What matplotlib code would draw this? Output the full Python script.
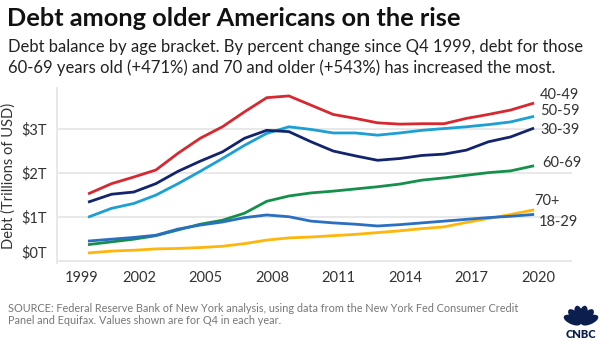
import numpy as np
import matplotlib.pyplot as plt
from matplotlib.patches import Ellipse
from matplotlib.transforms import ScaledTranslation

plt.rcParams['font.family'] = ['Lato', 'DejaVu Sans']

# Q4 values, trillions of USD
years = list(range(1999, 2020))
debt_18_29 = [0.45, 0.49, 0.53, 0.58, 0.72, 0.81, 0.88, 0.98, 1.04, 1.00, 0.90, 0.86,
              0.83, 0.79, 0.82, 0.86, 0.90, 0.94, 0.98, 1.01, 1.05]
debt_30_39 = [1.34, 1.51, 1.56, 1.75, 2.03, 2.26, 2.47, 2.78, 2.96, 2.93, 2.70, 2.49,
              2.38, 2.28, 2.32, 2.39, 2.42, 2.51, 2.70, 2.81, 3.00]
debt_40_49 = [1.53, 1.75, 1.90, 2.06, 2.44, 2.78, 3.04, 3.38, 3.70, 3.74, 3.53, 3.32,
              3.23, 3.13, 3.10, 3.11, 3.11, 3.23, 3.32, 3.42, 3.57]
debt_50_59 = [1.00, 1.19, 1.30, 1.49, 1.75, 2.03, 2.32, 2.62, 2.89, 3.04, 2.98, 2.90,
              2.90, 2.85, 2.90, 2.96, 3.00, 3.04, 3.09, 3.15, 3.27]
debt_60_69 = [0.37, 0.43, 0.49, 0.57, 0.70, 0.83, 0.92, 1.08, 1.35, 1.47, 1.54, 1.58,
              1.63, 1.68, 1.74, 1.83, 1.88, 1.94, 2.00, 2.04, 2.15]
debt_70 = [0.18, 0.22, 0.24, 0.27, 0.28, 0.30, 0.33, 0.39, 0.47, 0.52, 0.54, 0.57,
           0.60, 0.64, 0.68, 0.73, 0.77, 0.87, 0.96, 1.05, 1.15]

series = [
    ("40-49", debt_40_49, "#d7282f", (7, 8)),
    ("50-59", debt_50_59, "#1c9fd4", (7, 6)),
    ("30-39", debt_30_39, "#12246e", (8, -1)),
    ("60-69", debt_60_69, "#14904a", (9, 3)),
    ("70+", debt_70, "#ffb60a", (1, 9)),
    ("18-29", debt_18_29, "#2a6fc1", (6, -7)),
]
draw_order = ["70+", "60-69", "18-29", "50-59", "30-39", "40-49"]

x = np.array(years) + 0.75  # Q4 of each year

fig = plt.figure(figsize=(6.05, 3.41), dpi=100)
ax = fig.add_axes([57 / 605, 78 / 341, 515 / 605, 175 / 341])

for name in draw_order:
    label, vals, color, off = [s for s in series if s[0] == name][0]
    ax.plot(x, vals, color=color, lw=2.0, solid_joinstyle='round', zorder=3)

for label, vals, color, off in series:
    ax.annotate(label, xy=(x[-1], vals[-1]), xytext=(off[0] * 0.72, off[1] * 0.72),
                textcoords='offset points', ha='left', va='center',
                fontsize=10.5, color='#333333', annotation_clip=False)

ax.set_xlim(1998.29, 2021.52)
ax.set_ylim(-0.05, 3.92)
ax.set_yticks([0, 1, 2, 3])
ax.set_yticklabels(['$0T', '$1T', '$2T', '$3T'])
ax.set_xticks(range(1999, 2021, 3))
ax.grid(axis='y', color='#e6e6e6', lw=1.3)
ax.set_axisbelow(True)
for s in ['top', 'right', 'bottom']:
    ax.spines[s].set_visible(False)
ax.spines['left'].set_color('#e6e6e6')
ax.spines['left'].set_linewidth(1.3)
ax.tick_params(axis='both', length=0, labelsize=10.5, labelcolor='#333333')
ax.tick_params(axis='y', pad=7)
ax.tick_params(axis='x', pad=6)
ax.set_ylabel('Debt (Trillions of USD)', fontsize=10.5, color='#333333', labelpad=4)

# nudge edge labels like the original
lbl = ax.get_xticklabels()[0]
lbl.set_transform(lbl.get_transform() + ScaledTranslation(9 / 100, 0, fig.dpi_scale_trans))
lbl0 = ax.get_yticklabels()[0]
lbl0.set_transform(lbl0.get_transform() + ScaledTranslation(0, 9 / 100, fig.dpi_scale_trans))

fig.text(7 / 605, 1 - 19 / 341, 'Debt among older Americans on the rise',
         fontsize=18.3, fontweight='bold', color='#111111', va='center', ha='left')
fig.text(8 / 605, 1 - 47 / 341,
         'Debt balance by age bracket. By percent change since Q4 1999, debt for those',
         fontsize=12, color='#222222', va='center', ha='left')
fig.text(8 / 605, 1 - 68 / 341,
         '60-69 years old (+471%) and 70 and older (+543%) has increased the most.',
         fontsize=12, color='#222222', va='center', ha='left')

fig.text(8 / 605, 1 - 308 / 341,
         'SOURCE: Federal Reserve Bank of New York analysis, using data from the New York Fed Consumer Credit',
         fontsize=7.8, color='#777777', va='center', ha='left')
fig.text(8 / 605, 1 - 321 / 341,
         'Panel and Equifax. Values shown are for Q4 in each year.',
         fontsize=7.8, color='#777777', va='center', ha='left')

# CNBC peacock logo
logo = fig.add_axes([561 / 605, 1 - 339 / 341, 40 / 605, 42 / 341])
logo.set_xlim(0, 40)
logo.set_ylim(0, 42)
logo.axis('off')
navy = '#0b1f4f'
for ang in [-66, -40, -13, 13, 40, 66]:
    rad = np.deg2rad(ang)
    cx = 20 + 9.5 * np.sin(rad)
    cy = 15 + 9.5 * np.cos(rad)
    logo.add_patch(Ellipse((cx, cy), 7, 17, angle=-ang, color=navy))
logo.text(20, 4, 'CNBC', ha='center', va='center', fontsize=8,
          fontweight='heavy', color=navy)

fig.savefig('out.png', dpi=100)
